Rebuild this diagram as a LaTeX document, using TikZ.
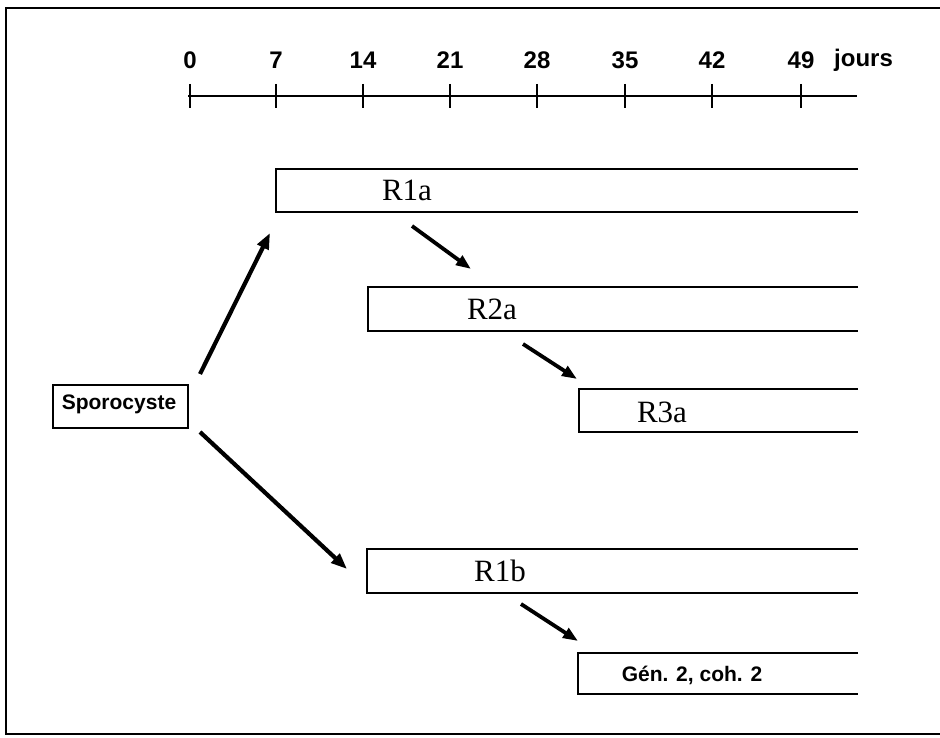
\documentclass[tikz,border=0pt]{standalone}
\usepackage{fontspec}
\setmainfont{Liberation Serif}
\newfontfamily\hvfont{Liberation Sans}
\usetikzlibrary{arrows.meta}

\tikzset{
  frameline/.style={line width=2.5pt},
  boxline/.style={line width=1.8pt},
  axisline/.style={line width=1.6pt},
  openbox/.style={inner sep=0pt, outer sep=0pt, anchor=north west},
  daylabel/.style={font=\hvfont\bfseries\fontsize{24}{27}\selectfont, inner sep=0pt},
  gen/.style={font=\rmfamily\fontsize{31}{34}\selectfont, inner sep=0pt},
  smallbold/.style={font=\hvfont\bfseries\fontsize{21}{24}\selectfont, inner sep=0pt},
  bigarrow/.style={line width=4.2pt, -{Triangle[length=16pt,width=12pt]}},
  smallarrow/.style={line width=3.8pt, -{Triangle[length=15pt,width=11pt]}},
}

\begin{document}
\begin{tikzpicture}[x=1pt, y=-1pt]
  \useasboundingbox (0,0) rectangle (940,738);

  % outer frame (open on the right)
  \draw[frameline] (940,8) -- (6,8) -- (6,734) -- (940,734);

  % time axis in days
  \draw[axisline] (188,96) -- (857,96);
  \foreach \x/\d [count=\i] in {190/0,276/7,363/14,450/21,537/28,625/35,712/42,801/49}{
    \draw[axisline] (\x,84) -- (\x,108);
    \node[daylabel] (day\i) at (\x,60) {\d};
  }
  \node[daylabel, anchor=west] (jours) at (834,60) {jours};

  % source
  \node[draw, boxline, inner sep=0pt, minimum width=135pt, minimum height=43pt,
        anchor=north west] (spo) at (52,384) {};
  \node[smallbold] (spotext) at (119,404) {Sporocyste};

  % open-ended bars
  \node[openbox, minimum width=582pt, minimum height=43pt] (r1a) at (276,169) {};
  \node[openbox, minimum width=490pt, minimum height=44pt] (r2a) at (368,287) {};
  \node[openbox, minimum width=279pt, minimum height=43pt] (r3a) at (579,389) {};
  \node[openbox, minimum width=491pt, minimum height=44pt] (r1b) at (367,549) {};
  \node[openbox, minimum width=280pt, minimum height=41pt] (g2) at (578,653) {};
  \foreach \b in {r1a,r2a,r3a,r1b,g2}{
    \draw[boxline] (\b.north east) -- (\b.north west) -- (\b.south west) -- (\b.south east);
  }

  \node[gen] (r1alab) at (407,190) {R1a};
  \node[gen] (r2alab) at (492,309) {R2a};
  \node[gen] (r3alab) at (662,412) {R3a};
  \node[gen] (r1blab) at (500,571) {R1b};
  \node[smallbold] (g2lab) at (692,675) {Gén. 2, coh. 2};

  % arrow ends
  \coordinate (s1) at (200,374);  \coordinate (e1) at (270,233);
  \coordinate (s2) at (200,432);  \coordinate (e2) at (347,569);
  \coordinate (s3) at (412,226);  \coordinate (e3) at (471,269);
  \coordinate (s4) at (523,344);  \coordinate (e4) at (577,379);
  \coordinate (s5) at (521,604);  \coordinate (e5) at (578,641);

  \draw[bigarrow] (s1) -- (e1);
  \draw[bigarrow] (s2) -- (e2);
  \draw[smallarrow] (s3) -- (e3);
  \draw[smallarrow] (s4) -- (e4);
  \draw[smallarrow] (s5) -- (e5);
\end{tikzpicture}
\end{document}
